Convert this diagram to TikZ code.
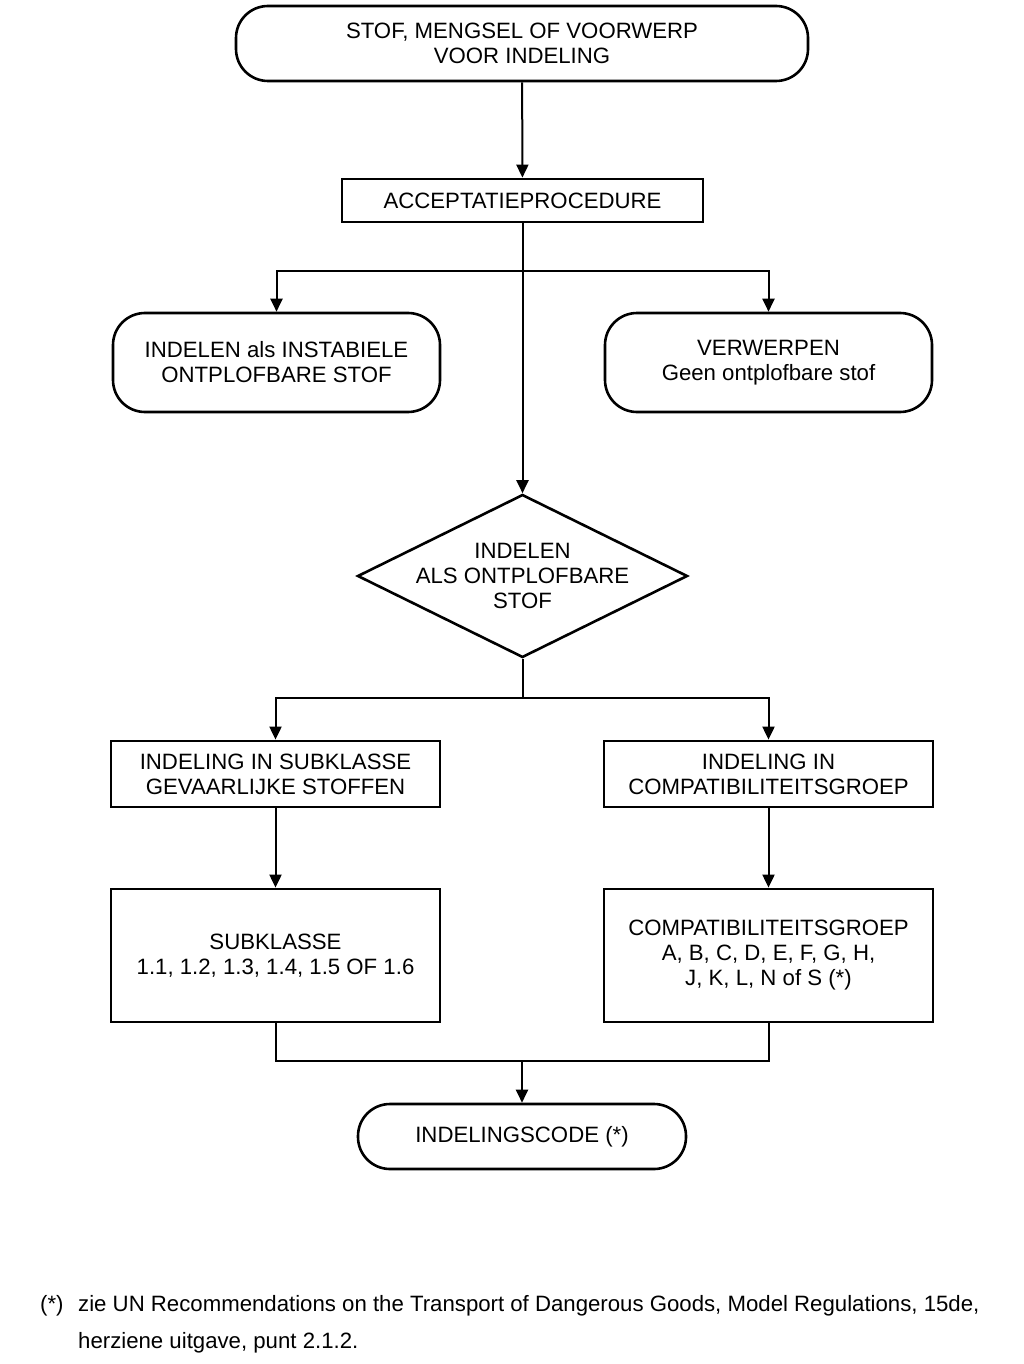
\documentclass[tikz,border=0pt]{standalone}
\usepackage{fontspec}
\setmainfont{Liberation Sans}
\usetikzlibrary{shapes.geometric, arrows.meta}

\tikzset{
  term/.style={draw, line width=2.6pt, rounded corners=32pt, align=center, inner sep=0pt},
  proc/.style={draw, line width=2.8pt, rectangle, align=center, inner sep=0pt},
  dec/.style={draw, line width=2.6pt, diamond, inner sep=0pt, minimum width=330pt, minimum height=163pt},
  link/.style={line width=2pt},
  arr/.style={link, -{Triangle[length=13pt,width=12pt]}}
}

\begin{document}
\begin{tikzpicture}[x=1pt,y=-1pt,font=\fontsize{22.2}{25}\selectfont]
\useasboundingbox (0,0) rectangle (1023,1364);
\node[term, minimum width=572pt, minimum height=75pt] (start) at (522,43.5) {STOF, MENGSEL OF VOORWERP\\VOOR INDELING};
\node[proc, minimum width=361pt, minimum height=43pt] (accept) at (522.5,200.5) {ACCEPTATIEPROCEDURE};
\node[term, minimum width=327pt, minimum height=99pt] (unstable) at (276.5,362.5) {INDELEN als INSTABIELE\\ONTPLOFBARE STOF};
\node[term, minimum width=327pt, minimum height=99pt] (reject) at (768.5,362.5) {VERWERPEN\\Geen ontplofbare stof};
\node[dec, label={[align=center]center:INDELEN\\ALS ONTPLOFBARE\\STOF}] (cls) at (522.5,576) {};
\node[proc, minimum width=329pt, minimum height=66pt] (sub) at (275.5,774) {INDELING IN SUBKLASSE\\GEVAARLIJKE STOFFEN};
\node[proc, minimum width=329pt, minimum height=66pt] (comp) at (768.5,774) {INDELING IN\\COMPATIBILITEITSGROEP};
\node[proc, minimum width=329pt, minimum height=133pt] (subcls) at (275.5,955.5) {SUBKLASSE\\1.1, 1.2, 1.3, 1.4, 1.5 OF 1.6};
\node[proc, minimum width=329pt, minimum height=133pt] (compgrp) at (768.5,955.5) {COMPATIBILITEITSGROEP\\A, B, C, D, E, F, G, H,\\J, K, L, N of S (*)};
\node[term, minimum width=328pt, minimum height=65pt] (code) at (522,1136.5) {INDELINGSCODE (*)};

\coordinate (b1) at (522.5,271);
\coordinate (b2) at (522.5,698);
\coordinate (b3) at (522,1061);

\draw[arr] (start) -- (accept);
\draw[arr] (accept) -- (cls);
\draw[arr] (b1) -| (unstable);
\draw[arr] (b1) -| (reject);
\draw[link] (cls) -- (b2);
\draw[arr] (b2) -| (sub);
\draw[arr] (b2) -| (comp);
\draw[arr] (sub) -- (subcls);
\draw[arr] (comp) -- (compgrp);
\draw[link] (subcls) |- (b3) -| (compgrp);
\draw[arr] (b3) -- (code);

\node[anchor=base west, inner sep=0pt] (fnmark) at (40,1311) {(*)};
\node[anchor=base west, inner sep=0pt, align=left, font=\fontsize{22.2}{37}\selectfont] (fnote) at (78,1348) {zie UN Recommendations on the Transport of Dangerous Goods, Model Regulations, 15de,\\herziene uitgave, punt 2.1.2.};
\end{tikzpicture}
\end{document}
